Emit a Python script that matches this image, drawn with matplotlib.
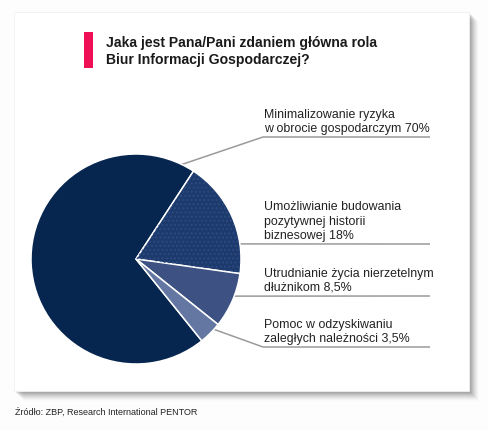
import numpy as np
import matplotlib
matplotlib.use('Agg')
import matplotlib.pyplot as plt
from matplotlib.patches import Rectangle, Wedge

# dane
labels = ['Minimalizowanie ryzyka\nw obrocie gospodarczym 70%',
          'Umożliwianie budowania\npozytywnej historii\nbiznesowej 18%',
          'Utrudnianie życia nierzetelnym\ndłużnikom 8,5%',
          'Pomoc w odzyskiwaniu\nzaległych należności 3,5%']
values = [70, 18, 8.5, 3.5]
colors = ['#06264f', '#1d3a6d', '#3d5283', '#6477a3']
title = 'Jaka jest Pana/Pani zdaniem główna rola\nBiur Informacji Gospodarczej?'
source = 'Źródło: ZBP, Research International PENTOR'

FONT = ['Liberation Sans', 'DejaVu Sans']
W, H = 489, 431

fig = plt.figure(figsize=(W / 100, H / 100), dpi=100)
fig.patch.set_facecolor('#fdfdfd')

# tlo / panel z cieniem (wspolrzedne w pikselach)
bg = fig.add_axes([0, 0, 1, 1])
bg.set_xlim(0, W)
bg.set_ylim(H, 0)
bg.axis('off')
for i, a in enumerate(np.linspace(0.16, 0.02, 9)):
    bg.add_patch(Rectangle((14 + 2 + i, 13 + 2 + i), 455, 379, color='#707070', alpha=a, lw=0))
bg.add_patch(Rectangle((14, 13), 455, 379, facecolor='white', edgecolor='#f0f0f0', lw=0.6))

# tytul
bg.add_patch(Rectangle((84, 33), 9, 36, color='#ee0f55', lw=0))
bg.text(106, 51.5, title, family=FONT, fontsize=10.1, fontweight='bold', color='#1a1a1a',
        va='center', ha='left', linespacing=1.25)

# wykres kolowy
cx, cy, r = 136, 260, 105
ax = fig.add_axes([(cx - r) / W, (H - cy - r) / H, 2 * r / W, 2 * r / H])
wedges, _ = ax.pie(values, colors=colors, startangle=-51.2, counterclock=False, radius=1,
                   wedgeprops=dict(edgecolor='white', linewidth=1.1))
ax.set_xlim(-1, 1)
ax.set_ylim(-1, 1)
ax.set_aspect('equal')
# kropkowana faktura na wycinku 18%
w = wedges[1]
ax.add_patch(Wedge(w.center, w.r * 0.99, w.theta1 + 0.6, w.theta2 - 0.6, facecolor='none',
                   edgecolor='#2c4a80', hatch='....', lw=0))

# linie odniesienia i opisy
anchors = [(69.5, 0.92), (9.5, 0.87), (-24, 0.87), (-45, 0.89)]
line_y = [138, 245, 297, 348]
elbow_x = [263, None, None, 263]
for lab, (ang, rf), ly, ex in zip(labels, anchors, line_y, elbow_x):
    x0 = cx + r * rf * np.cos(np.radians(ang))
    y0 = cy - r * rf * np.sin(np.radians(ang))
    if ex is None:
        xs, ys = [x0, 430], [y0, ly]
    else:
        xs, ys = [x0, ex, 430], [y0, ly, ly]
    bg.plot(xs, ys, color='#9a9a9a', lw=1.1, solid_capstyle='butt')
    bg.text(264, ly - 3, lab, family=FONT, fontsize=8.9, color='#222222',
            va='bottom', ha='left', linespacing=1.25)

bg.text(15, 412, source, family=FONT, fontsize=6.5, color='#222222', va='center', ha='left')

fig.savefig('out.png', dpi=100, facecolor=fig.get_facecolor())
